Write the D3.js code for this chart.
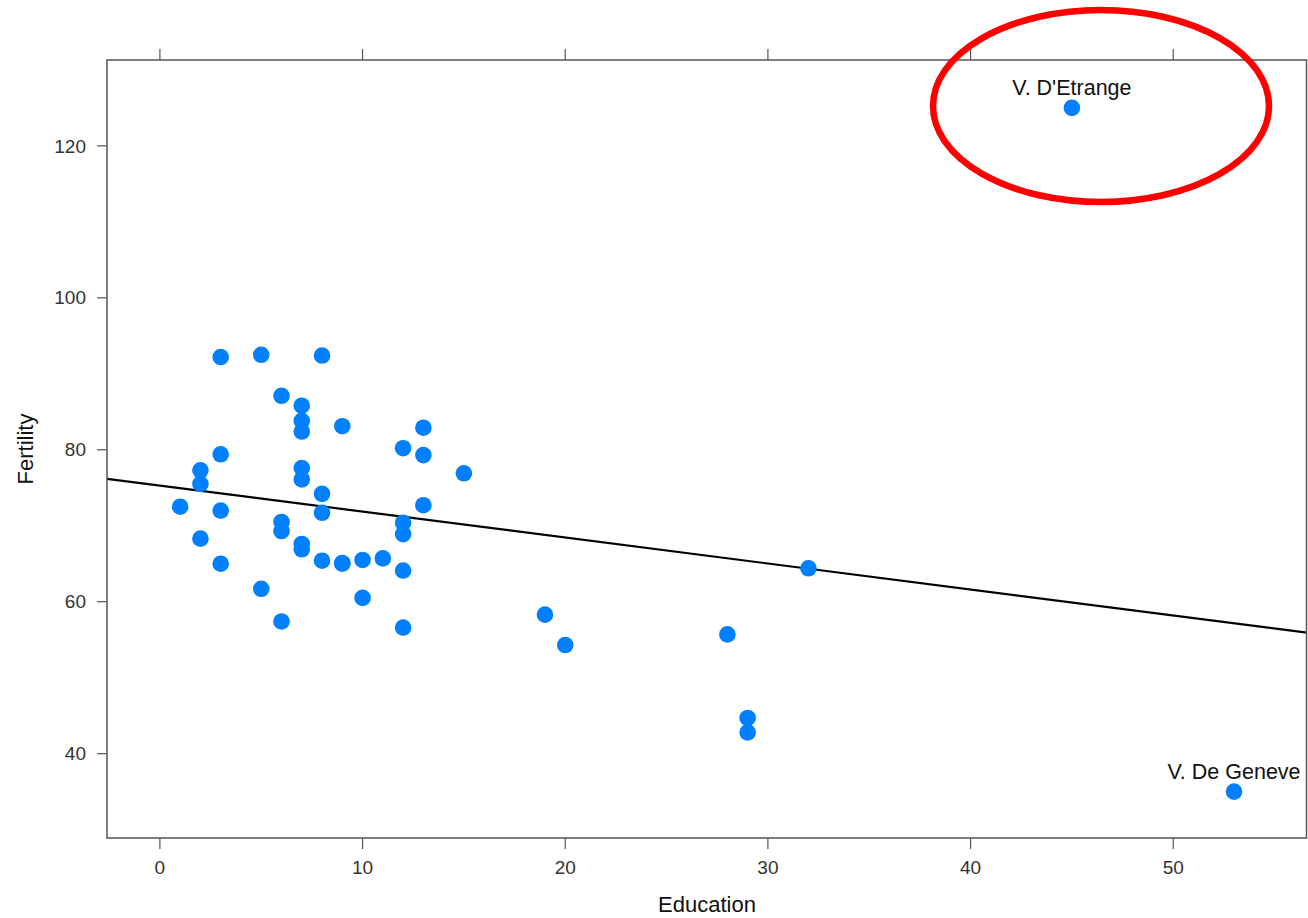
<!DOCTYPE html>
<html>
<head>
<meta charset="utf-8">
<script src="https://cdn.jsdelivr.net/npm/d3@7"></script>
<style>
  body { margin: 0; background: #fff; }
  text { font-family: "Liberation Sans", Arial, sans-serif; }
</style>
</head>
<body>
<div id="chart"></div>
<script>
// Swiss provinces: Education vs Fertility (plus the odd one out)
const names = ["Courtelary","Delemont","Franches-Mnt","Moutier","Neuveville","Porrentruy","Broye","Glane",
  "Gruyere","Sarine","Veveyse","Aigle","Aubonne","Avenches","Cossonay","Echallens","Grandson","Lausanne",
  "La Vallee","Lavaux","Morges","Moudon","Nyone","Orbe","Oron","Payerne","Paysd'enhaut","Rolle","Vevey",
  "Yverdon","Conthey","Entremont","Herens","Martigwy","Monthey","St Maurice","Sierre","Sion","Boudry",
  "La Chauxdfnd","Le Locle","Neuchatel","Val de Ruz","ValdeTravers","V. De Geneve","Rive Droite",
  "Rive Gauche","V. D'Etrange"];
const education = [12,9,5,7,15,7,7,8,7,13,6,12,7,12,5,2,8,28,20,9,10,3,12,6,1,8,3,10,19,8,2,6,2,6,3,9,3,13,
  12,11,13,32,7,7,53,29,29,45];
const fertility = [80.2,83.1,92.5,85.8,76.9,76.1,83.8,92.4,82.4,82.9,87.1,64.1,66.9,68.9,61.7,68.3,71.7,55.7,
  54.3,65.1,65.5,65.0,56.6,57.4,72.5,74.2,72.0,60.5,58.3,65.4,75.5,69.3,77.3,70.5,79.4,65.0,92.2,79.3,70.4,
  65.7,72.7,64.4,77.6,67.6,35.0,44.7,42.8,125.0];
const labelled = ["V. D'Etrange", "V. De Geneve"];
const xTicks = [0, 10, 20, 30, 40, 50];
const yTicks = [40, 60, 80, 100, 120];

const width = 1308, height = 918;
const margin = {left: 107, top: 60, right: 1, bottom: 80};

const svg = d3.select("#chart").append("svg")
  .attr("width", width)
  .attr("height", height);

const x = d3.scaleLinear().domain([-2.61, 56.6]).range([margin.left, width - margin.right]);
const y = d3.scaleLinear().domain([28.9, 131.3]).range([height - margin.bottom, margin.top]);

const data = education.map((e, i) => ({name: names[i], ed: e, fert: fertility[i]}));

// least squares fit of fertility on education
const mx = d3.mean(education), my = d3.mean(fertility);
const sxy = d3.sum(data, d => (d.ed - mx) * (d.fert - my));
const sxx = d3.sum(data, d => (d.ed - mx) ** 2);
const slope = sxy / sxx, intercept = my - slope * mx;

const axisColor = "#555";
const x0 = margin.left, x1 = width - margin.right, y0 = margin.top, y1 = height - margin.bottom;

// ticks (bottom, top, left)
svg.append("g").selectAll("line.bt").data(xTicks).enter().append("line")
  .attr("x1", d => x(d)).attr("x2", d => x(d)).attr("y1", y1).attr("y2", y1 + 11)
  .attr("stroke", axisColor).attr("stroke-width", 1.2);
svg.append("g").selectAll("line.tt").data(xTicks).enter().append("line")
  .attr("x1", d => x(d)).attr("x2", d => x(d)).attr("y1", y0).attr("y2", y0 - 11)
  .attr("stroke", axisColor).attr("stroke-width", 1.2);
svg.append("g").selectAll("line.lt").data(yTicks).enter().append("line")
  .attr("x1", x0 - 10).attr("x2", x0).attr("y1", d => y(d)).attr("y2", d => y(d))
  .attr("stroke", axisColor).attr("stroke-width", 1.2);

svg.append("g").selectAll("text").data(xTicks).enter().append("text")
  .attr("x", d => x(d)).attr("y", y1 + 36)
  .attr("text-anchor", "middle").attr("font-size", 19).attr("fill", "#333")
  .text(d => d);
svg.append("g").selectAll("text").data(yTicks).enter().append("text")
  .attr("x", x0 - 21).attr("y", d => y(d)).attr("dy", "0.35em")
  .attr("text-anchor", "end").attr("font-size", 19).attr("fill", "#333")
  .text(d => d);

// regression line clipped to panel
svg.append("clipPath").attr("id", "panel").append("rect")
  .attr("x", x0).attr("y", y0).attr("width", x1 - x0).attr("height", y1 - y0);

const panel = svg.append("g").attr("clip-path", "url(#panel)");
panel.append("line")
  .attr("x1", x(-2.61)).attr("y1", y(intercept + slope * -2.61))
  .attr("x2", x(56.6)).attr("y2", y(intercept + slope * 56.6))
  .attr("stroke", "#000").attr("stroke-width", 2.2);

panel.selectAll("circle").data(data).enter().append("circle")
  .attr("cx", d => x(d.ed)).attr("cy", d => y(d.fert))
  .attr("r", 8.3).attr("fill", "#0080ff");

svg.append("g").selectAll("text").data(data.filter(d => labelled.includes(d.name))).enter().append("text")
  .attr("x", d => x(d.ed)).attr("y", d => y(d.fert) - 13)
  .attr("text-anchor", "middle").attr("font-size", 21.5).attr("fill", "#111")
  .text(d => d.name);

// panel border
svg.append("rect")
  .attr("x", x0).attr("y", y0).attr("width", x1 - x0 - 0.5).attr("height", y1 - y0)
  .attr("fill", "none").attr("stroke", axisColor).attr("stroke-width", 1.5);

// axis titles
svg.append("text").attr("x", (x0 + x1) / 2).attr("y", 912)
  .attr("text-anchor", "middle").attr("font-size", 22).attr("fill", "#111").text("Education");
svg.append("text").attr("transform", `translate(33, ${(y0 + y1) / 2}) rotate(-90)`)
  .attr("text-anchor", "middle").attr("font-size", 22).attr("fill", "#111").text("Fertility");

// highlight around the outlier
svg.append("ellipse")
  .attr("cx", 1101).attr("cy", 106).attr("rx", 168).attr("ry", 96)
  .attr("fill", "none").attr("stroke", "#ff0000").attr("stroke-width", 6.5);
</script>
</body>
</html>
